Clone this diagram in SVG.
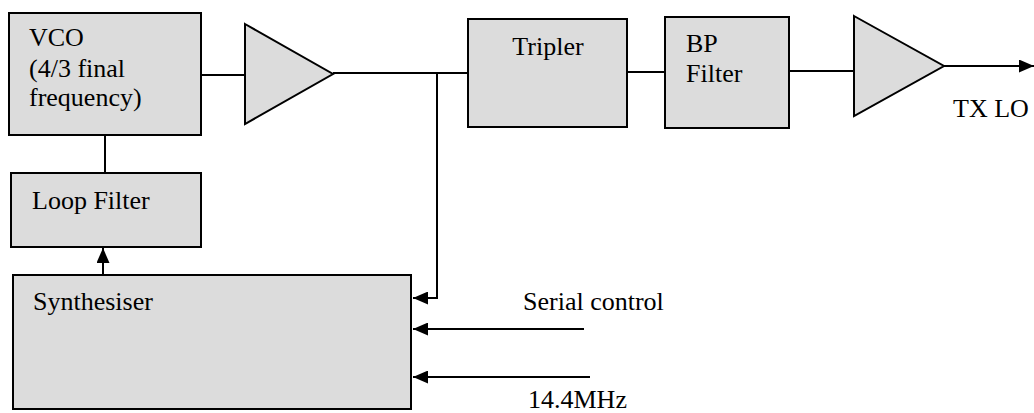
<svg xmlns="http://www.w3.org/2000/svg" width="1034" height="413" viewBox="0 0 1034 413">
<style>
.box{fill:#dcdcdc;stroke:#000;stroke-width:2}
.ln{fill:none;stroke:#000;stroke-width:2}
.t{font-family:'Liberation Serif','Times New Roman',serif;font-size:26px;fill:#000}
</style>
<defs>
<marker id="ah" markerWidth="15" markerHeight="13" refX="15" refY="6.5" orient="auto" markerUnits="userSpaceOnUse">
<path d="M0,0 L15,6.5 L0,13 Z" fill="#000"/>
</marker>
</defs>
<rect width="1034" height="413" fill="#fff"/>
<g id="connectors">
<line class="ln" x1="201" y1="75" x2="245" y2="75"/>
<line class="ln" x1="333" y1="73" x2="468" y2="73"/>
<polyline class="ln" points="437,73 437,298 413,298" marker-end="url(#ah)"/>
<line class="ln" x1="627" y1="72" x2="665" y2="72"/>
<line class="ln" x1="789" y1="71" x2="854" y2="71"/>
<line class="ln" x1="944" y1="66" x2="1034" y2="66" marker-end="url(#ah)"/>
<line class="ln" x1="105" y1="135" x2="105" y2="173"/>
<line class="ln" x1="103" y1="275" x2="103" y2="248" marker-end="url(#ah)"/>
<line class="ln" x1="584" y1="329" x2="413" y2="329" marker-end="url(#ah)"/>
<line class="ln" x1="590" y1="377" x2="413" y2="377" marker-end="url(#ah)"/>
</g>
<g id="vco">
<rect class="box" x="9" y="13" width="192" height="122"/>
<text class="t" x="29" y="46">VCO</text>
<text class="t" x="29" y="77">(4/3 final</text>
<text class="t" x="29" y="106">frequency)</text>
</g>
<g id="amp1"><polygon class="box" points="245,24 333,74 245,124"/></g>
<g id="tripler">
<rect class="box" x="468" y="19" width="159" height="108"/>
<text class="t" x="548" y="55" text-anchor="middle">Tripler</text>
</g>
<g id="bpfilter">
<rect class="box" x="665" y="17" width="124" height="111"/>
<text class="t" x="686" y="52">BP</text>
<text class="t" x="686" y="82">Filter</text>
</g>
<g id="amp2"><polygon class="box" points="854,16 944,66 854,116"/></g>
<g id="txlo"><text class="t" x="953" y="117">TX LO</text></g>
<g id="loopfilter">
<rect class="box" x="11" y="173" width="190" height="74"/>
<text class="t" x="32" y="209">Loop Filter</text>
</g>
<g id="synth">
<rect class="box" x="13" y="275" width="398" height="134"/>
<text class="t" x="33" y="310">Synthesiser</text>
</g>
<g id="serial"><text class="t" x="523" y="310">Serial control</text></g>
<g id="clk"><text class="t" x="528" y="408">14.4MHz</text></g>
</svg>
